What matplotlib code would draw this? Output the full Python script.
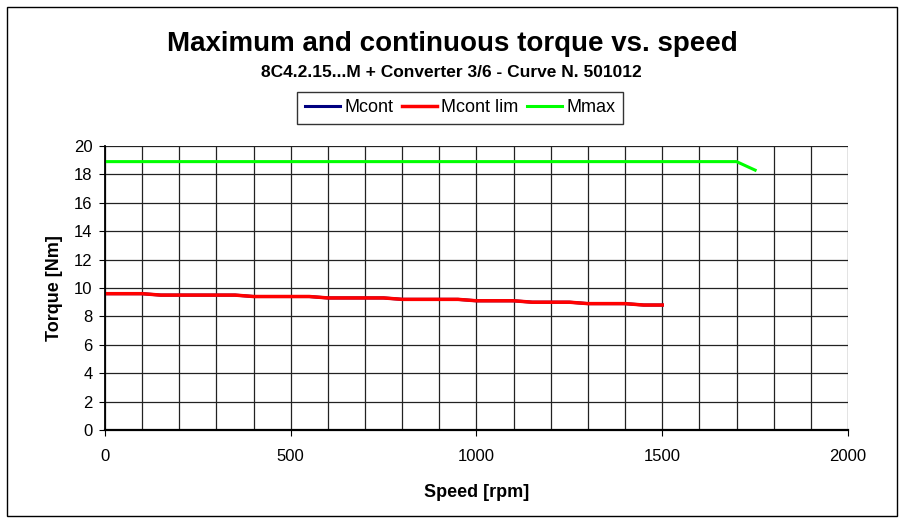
import matplotlib.pyplot as plt
import matplotlib.patches as patches
from matplotlib.ticker import MultipleLocator

plt.rcParams['font.family'] = ['Liberation Sans', 'DejaVu Sans']

# data
speed_cont = [0, 50, 100, 150, 200, 250, 300, 350, 400, 450, 500, 550, 600, 650, 700, 750,
              800, 850, 900, 950, 1000, 1050, 1100, 1150, 1200, 1250, 1300, 1350, 1400, 1450, 1500]
mcont = [9.6, 9.6, 9.6, 9.5, 9.5, 9.5, 9.5, 9.5, 9.4, 9.4, 9.4, 9.4, 9.3, 9.3, 9.3, 9.3,
         9.2, 9.2, 9.2, 9.2, 9.1, 9.1, 9.1, 9.0, 9.0, 9.0, 8.9, 8.9, 8.9, 8.8, 8.8]
mcont_lim = list(mcont)
speed_max = [0, 1700, 1750]
mmax = [18.9, 18.9, 18.3]

fig = plt.figure(figsize=(9.03, 5.22), dpi=100)
fig.patches.append(patches.Rectangle((7/903, 6/522), 890/903, 509/522, transform=fig.transFigure,
                                     fill=False, edgecolor='black', linewidth=1))
ax = fig.add_axes([105/903, 1-430/522, 743/903, 284/522])

ax.plot(speed_cont, mcont, color='#000080', lw=2.2, label='Mcont')
ax.plot(speed_cont, mcont_lim, color='#ff0000', lw=2.5, label='Mcont lim')
ax.plot(speed_max, mmax, color='#00ff00', lw=2.2, label='Mmax')

ax.set_xlim(0, 2000)
ax.set_ylim(0, 20)
ax.xaxis.set_major_locator(MultipleLocator(500))
ax.xaxis.set_minor_locator(MultipleLocator(100))
ax.yaxis.set_major_locator(MultipleLocator(2))
ax.grid(which='both', color='#222222', lw=0.9)
ax.tick_params(axis='x', which='minor', length=0)
ax.tick_params(axis='both', which='major', direction='out', length=4, labelsize=12, colors='black')
ax.tick_params(axis='x', pad=10)
ax.tick_params(axis='y', pad=5)
for s in ['top', 'right']:
    ax.spines[s].set_visible(False)
ax.spines['left'].set_linewidth(1.3)
ax.spines['bottom'].set_linewidth(1.6)

ax.set_xlabel('Speed [rpm]', fontsize=13, fontweight='bold', labelpad=14)
ax.set_ylabel('Torque [Nm]', fontsize=13, fontweight='bold', labelpad=8)

fig.text(452/903, 1-51/522, 'Maximum and continuous torque vs. speed', ha='center', va='baseline',
         fontsize=20, fontweight='bold')
fig.text(451/903, 1-77/522, '8C4.2.15...M + Converter 3/6 - Curve N. 501012', ha='center', va='baseline',
         fontsize=12.5, fontweight='bold')

leg = fig.legend(loc='center', bbox_to_anchor=(460/903, 1-108/522), ncol=3, frameon=True,
                 fancybox=False, edgecolor='black', fontsize=13, handlelength=1.95,
                 handletextpad=0.25, columnspacing=0.45, borderpad=0.4, borderaxespad=0)
leg.get_frame().set_linewidth(1)

fig.savefig('out.png', dpi=100)
